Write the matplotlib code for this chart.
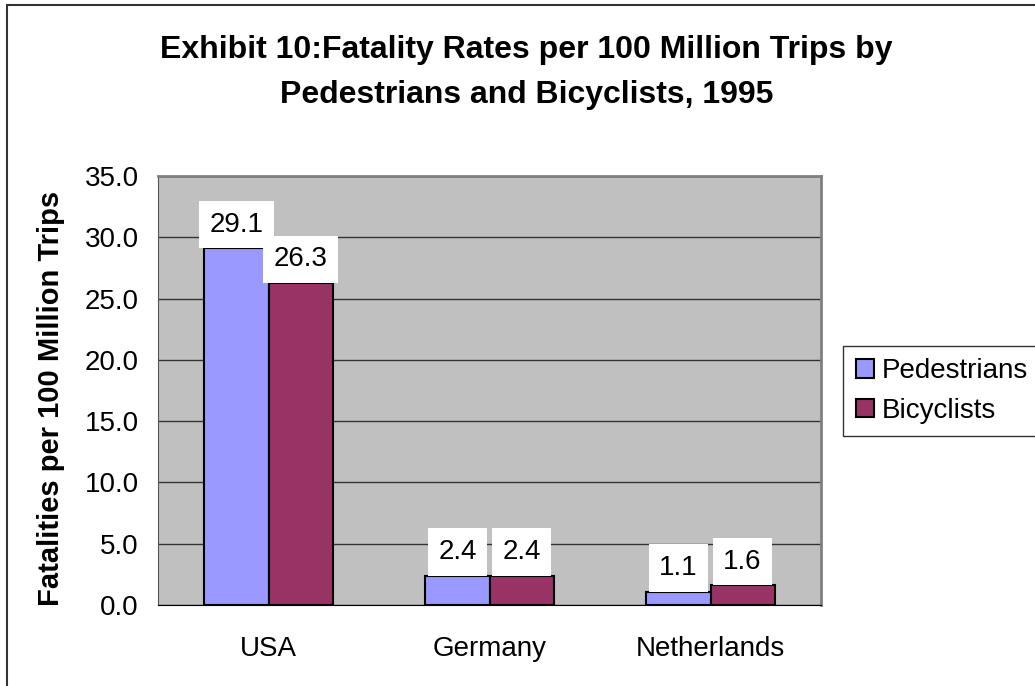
import numpy as np
import matplotlib
matplotlib.use('Agg')
from matplotlib import pyplot as plt
from matplotlib.patches import Rectangle

plt.rcParams['font.family'] = ['Liberation Sans', 'DejaVu Sans']

countries = ['USA', 'Germany', 'Netherlands']
pedestrians = [29.1, 2.4, 1.1]
bicyclists = [26.3, 2.4, 1.6]
series_names = ['Pedestrians', 'Bicyclists']
yticks = [0, 5, 10, 15, 20, 25, 30, 35]

fig = plt.figure(figsize=(10.35, 6.86), dpi=100)
ax = fig.add_axes([158 / 1035, 81 / 686, 663 / 1035, 429 / 686])
ax.set_facecolor('#C0C0C0')

x = np.arange(len(countries))
w = 0.29
b1 = ax.bar(x - w / 2, pedestrians, w, color='#9999FF', edgecolor='black', linewidth=1.5,
            label=series_names[0], zorder=3)
b2 = ax.bar(x + w / 2, bicyclists, w, color='#993366', edgecolor='black', linewidth=1.5,
            label=series_names[1], zorder=3)

# data labels with white boxes sitting on the bars
lab_fs = 20
lab_pad = 0.38
for bars, vals in [(b1, pedestrians), (b2, bicyclists)]:
    for r, v in zip(bars, vals):
        ax.annotate('%.1f' % v, (r.get_x() + r.get_width() / 2, v),
                    xytext=(0, lab_pad * lab_fs), textcoords='offset points',
                    ha='center', va='bottom', fontsize=lab_fs, zorder=4,
                    bbox=dict(boxstyle='square,pad=%.2f' % lab_pad, fc='white', ec='none'))

ax.set_xlim(-0.5, 2.5)
ax.set_ylim(0, 35)
ax.set_yticks(yticks)
ax.set_yticklabels(['%.1f' % t for t in yticks])
ax.set_xticks(x)
ax.set_xticklabels(countries)
ax.tick_params(axis='both', length=0, labelsize=20)
ax.tick_params(axis='x', pad=22)
ax.tick_params(axis='y', pad=14)
ax.yaxis.grid(True, color='#333333', linewidth=1)
ax.set_axisbelow(True)
for s in ['top', 'right']:
    ax.spines[s].set_color('#808080')
    ax.spines[s].set_linewidth(2)
ax.spines['left'].set_color('#555555')
ax.spines['bottom'].set_color('black')

fig.text(526 / 1035, 1 - 50 / 686, 'Exhibit 10:Fatality Rates per 100 Million Trips by',
         ha='center', va='center', fontsize=23, fontweight='bold')
fig.text(527 / 1035, 1 - 95 / 686, 'Pedestrians and Bicyclists, 1995',
         ha='center', va='center', fontsize=23, fontweight='bold')
fig.text(51 / 1035, 1 - 398 / 686, 'Fatalities per 100 Million Trips',
         ha='center', va='center', rotation=90, fontsize=21, fontweight='bold')

leg = ax.legend(loc='center left', bbox_to_anchor=(843 / 1035, 1 - 391 / 686),
                bbox_transform=fig.transFigure, fontsize=20, frameon=True,
                fancybox=False, edgecolor='black', handlelength=0.65, handleheight=0.65,
                handletextpad=0.3, borderpad=0.45, labelspacing=0.5, borderaxespad=0)
leg.get_frame().set_linewidth(1)

# outer chart border (left and top visible)
fig.patches.append(Rectangle((7 / 1035, -0.1), 1.2, 1 - 5 / 686 + 0.1, transform=fig.transFigure,
                             fill=False, edgecolor='#333333', linewidth=1.5))

fig.savefig('out.png', dpi=100)
